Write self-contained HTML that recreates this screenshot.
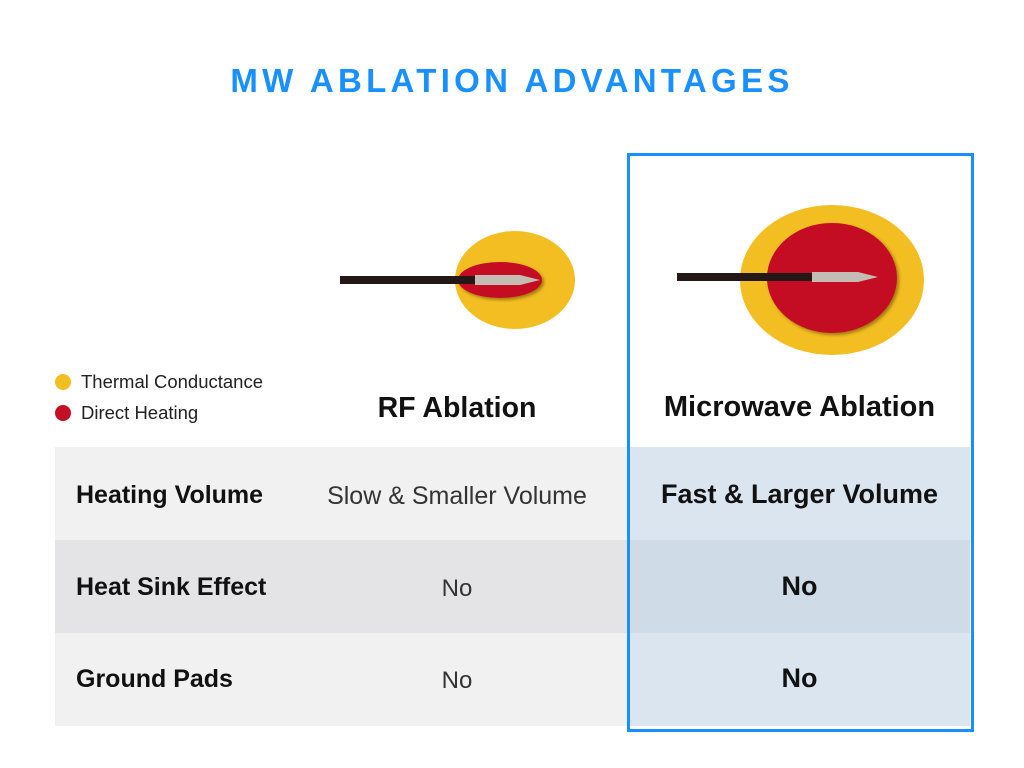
<!DOCTYPE html>
<html><head><meta charset="utf-8"><style>
body{margin:0;width:1024px;height:768px;background:#fff;position:relative;font-family:"Liberation Sans",sans-serif;overflow:hidden}
.a{position:absolute}
.t{white-space:nowrap}
</style></head><body>
<div class="a t" style="left:0;width:1024px;top:62px;text-align:center;font-size:33px;font-weight:bold;color:#1890ff;letter-spacing:4.3px">MW ABLATION ADVANTAGES</div>

<div class="a" style="left:55px;top:447px;width:915px;height:93px;background:#f1f1f1"></div>
<div class="a" style="left:55px;top:540px;width:915px;height:93px;background:#e4e4e6"></div>
<div class="a" style="left:55px;top:633px;width:915px;height:93px;background:#f1f1f1"></div>
<div class="a" style="left:629px;top:447px;width:341px;height:93px;background:#dbe5f0"></div>
<div class="a" style="left:629px;top:540px;width:341px;height:93px;background:#cfdbe6"></div>
<div class="a" style="left:629px;top:633px;width:341px;height:93px;background:#dbe5f0"></div>
<div class="a" style="left:627px;top:153px;width:341px;height:573px;border:3px solid #1890ff"></div>

<svg class="a" style="left:0;top:0" width="1024" height="768">
<defs><filter id="s"><feDropShadow dx="2" dy="2" stdDeviation="1.5" flood-color="#6b4a00" flood-opacity="0.6"/></filter></defs>
<ellipse cx="515" cy="280" rx="60" ry="49" fill="#f3be22"/>
<ellipse cx="500" cy="280" rx="42" ry="18" fill="#c41024" filter="url(#s)"/>
<rect x="340" y="276" width="135" height="8" fill="#231815"/>
<polygon points="475,275 520,275 540,280 520,285 475,285" fill="#c4bcb4"/>
<ellipse cx="832" cy="280" rx="92" ry="75" fill="#f3be22"/>
<ellipse cx="832" cy="278" rx="65" ry="55" fill="#c41024" filter="url(#s)"/>
<rect x="677" y="273" width="135" height="8" fill="#231815"/>
<polygon points="812,272 858,272 878,277 858,282 812,282" fill="#c4bcb4"/>
<circle cx="63" cy="382" r="8" fill="#f3be22"/>
<circle cx="63" cy="413" r="8" fill="#c41024"/>
</svg>

<div class="a t" style="left:81px;top:371px;font-size:18.5px;color:#222">Thermal Conductance</div>
<div class="a t" style="left:81px;top:402px;font-size:18.5px;color:#222">Direct Heating</div>
<div class="a t" style="left:300px;width:314px;top:392px;text-align:center;font-size:28.5px;font-weight:bold;color:#111">RF Ablation</div>
<div class="a t" style="left:629px;width:341px;top:391px;text-align:center;font-size:29px;font-weight:bold;color:#111">Microwave Ablation</div>

<div class="a t" style="left:76px;top:481px;font-size:25px;font-weight:bold;color:#111">Heating Volume</div>
<div class="a t" style="left:76px;top:573px;font-size:25px;font-weight:bold;color:#111">Heat Sink Effect</div>
<div class="a t" style="left:76px;top:665px;font-size:25px;font-weight:bold;color:#111">Ground Pads</div>

<div class="a t" style="left:300px;width:314px;top:482px;text-align:center;font-size:25px;color:#333">Slow &amp; Smaller Volume</div>
<div class="a t" style="left:300px;width:314px;top:575px;text-align:center;font-size:24px;color:#333">No</div>
<div class="a t" style="left:300px;width:314px;top:667px;text-align:center;font-size:24px;color:#333">No</div>

<div class="a t" style="left:629px;width:341px;top:479px;text-align:center;font-size:27px;font-weight:bold;color:#111">Fast &amp; Larger Volume</div>
<div class="a t" style="left:629px;width:341px;top:571px;text-align:center;font-size:27px;font-weight:bold;color:#111">No</div>
<div class="a t" style="left:629px;width:341px;top:663px;text-align:center;font-size:27px;font-weight:bold;color:#111">No</div>
</body></html>
